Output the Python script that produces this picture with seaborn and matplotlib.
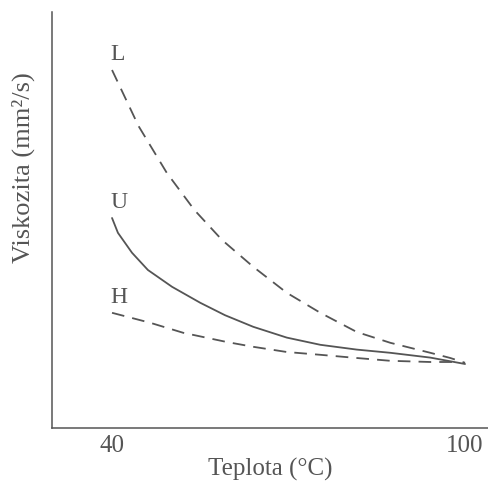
"""
Viscosity vs temperature sketch (L, U, H oils)
"""

import matplotlib
matplotlib.use("Agg")
import matplotlib.pyplot as plt
import seaborn as sns

# Values (y in arbitrary units, no y ticks on the figure)
l_temp = [40, 44.5, 49.3, 54.0, 58.7, 64.0, 69.7, 75.4, 81.6, 87.3, 94.1, 97.5, 100]
l_visc = [89.5, 75.5, 63.8, 54.5, 47.0, 40.3, 33.8, 28.8, 24.0, 21.3, 18.8, 17.5, 16.3]

u_temp = [40, 41.0, 43.4, 46.1, 50.2, 55.0, 59.2, 64.0, 69.7, 75.4, 81.6, 87.3, 94.1, 100]
u_visc = [52.5, 48.8, 43.8, 39.5, 35.3, 31.3, 28.2, 25.3, 22.6, 20.8, 19.6, 18.8, 17.6, 16.0]

h_temp = [40, 46.5, 52.1, 59.5, 64.0, 69.7, 75.4, 81.6, 87.3, 94.1, 98.3]
h_visc = [28.8, 26.3, 23.8, 21.5, 20.3, 19.0, 18.3, 17.5, 16.8, 16.5, 16.5]

x_ticks = [40, 100]
curve_names = ["L", "U", "H"]

sns.set_style("white")
plt.rcParams["font.family"] = ["Liberation Serif", "DejaVu Serif"]

ink = "#555555"
fig = plt.figure(figsize=(4.88, 4.84), dpi=100)
ax = fig.add_axes([0.1066, 0.1157, 0.8934, 0.8595])

sns.lineplot(x=l_temp, y=l_visc, ax=ax, color=ink, linewidth=1.3)
ax.lines[-1].set_dashes((7, 4.5))
sns.lineplot(x=u_temp, y=u_visc, ax=ax, color=ink, linewidth=1.3)
sns.lineplot(x=h_temp, y=h_visc, ax=ax, color=ink, linewidth=1.3)
ax.lines[-1].set_dashes((7, 4.5))

# curve names just above each curve start
for name, xs, ys in zip(curve_names, [l_temp, u_temp, h_temp], [l_visc, u_visc, h_visc]):
    ax.annotate(name, (xs[0], ys[0]), xytext=(-1, 11), textcoords="offset points",
                ha="left", va="center", fontsize=17, color=ink)

ax.set_xlim(29.8, 103.9)
ax.set_ylim(0, 104)
ax.set_xticks(x_ticks)
ax.set_yticks([])
ax.tick_params(axis="x", direction="in", length=10, width=0.9, color=ink,
               labelsize=18, labelcolor=ink, pad=5)

for side in ["top", "right"]:
    ax.spines[side].set_visible(False)
for side in ["left", "bottom"]:
    ax.spines[side].set_color(ink)
    ax.spines[side].set_linewidth(1.1)

ax.set_xlabel("Teplota (°C)", fontsize=18, color=ink, labelpad=1)
ax.set_ylabel("Viskozita (mm²/s)", fontsize=19, color=ink)
ax.yaxis.set_label_coords(-0.039, 0.625)

fig.savefig("out.png", dpi=100, facecolor="white")
